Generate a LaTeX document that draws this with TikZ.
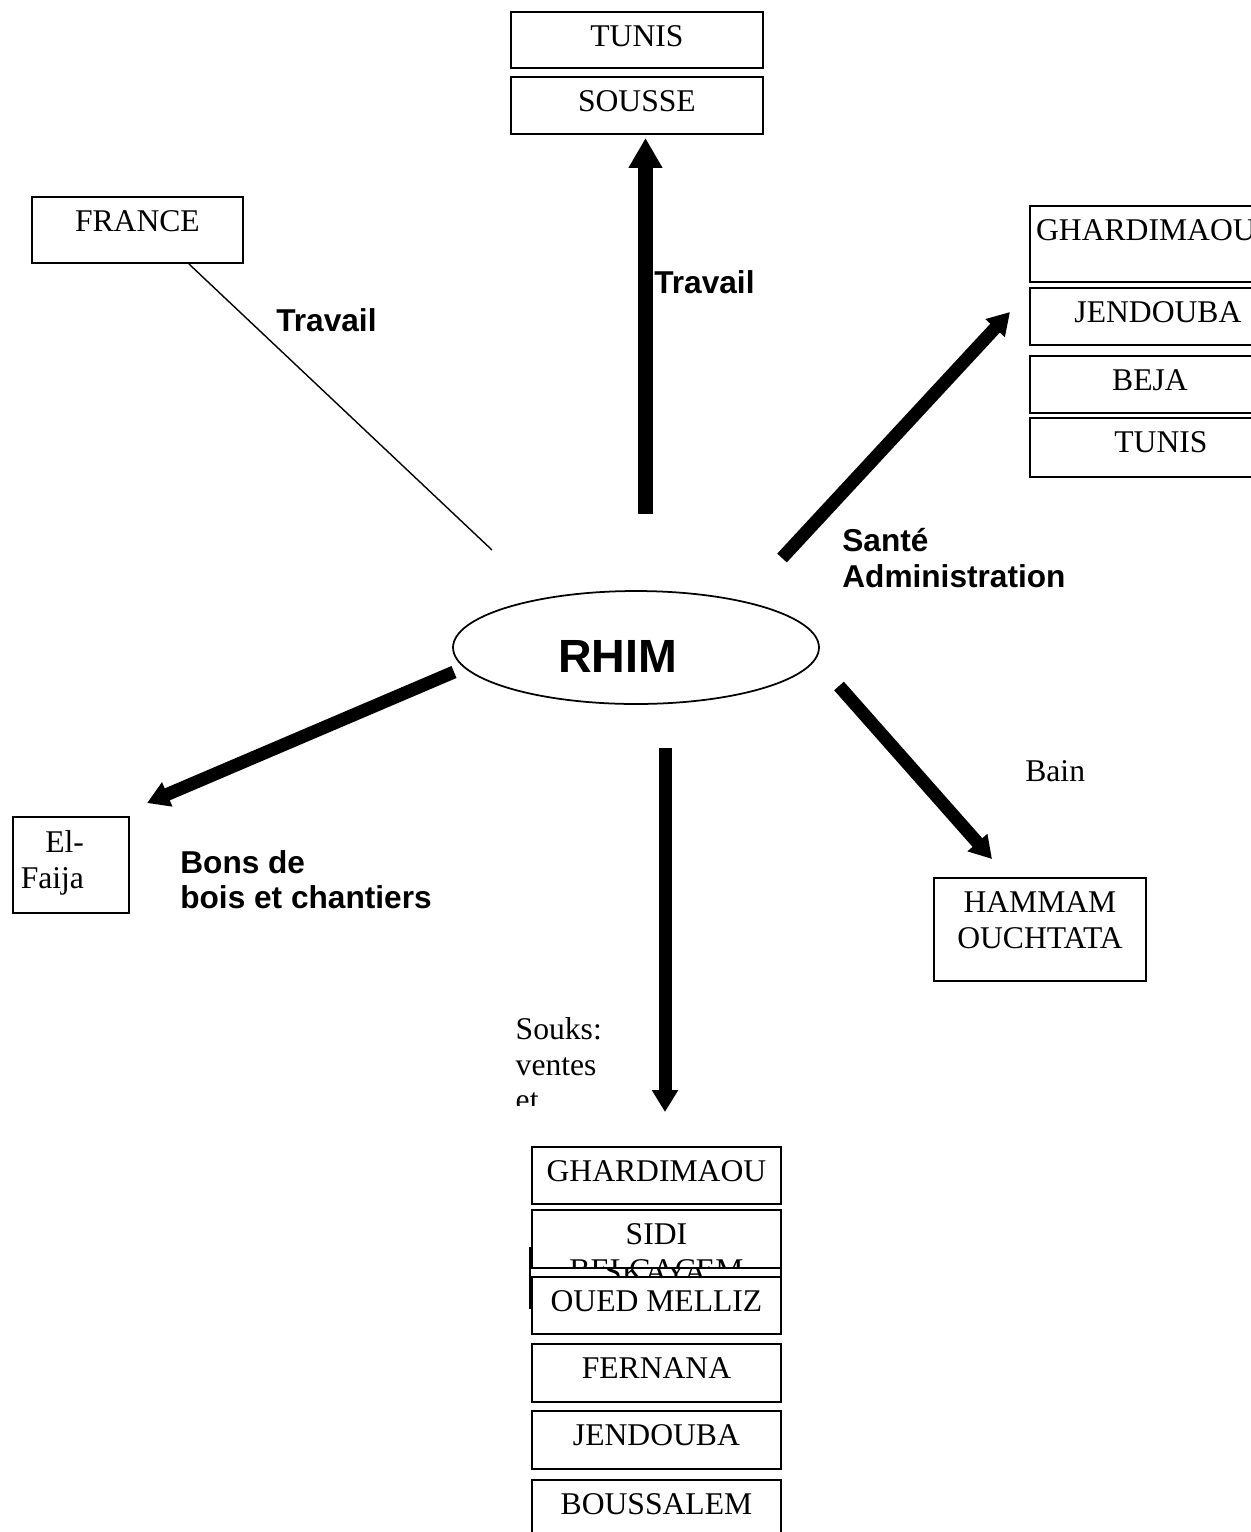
\documentclass[tikz,border=0pt]{standalone}
\usepackage{fontspec}
\setmainfont{Liberation Serif}
\setsansfont{Liberation Sans}
\usetikzlibrary{arrows.meta,shapes.geometric}
\newcommand\townfont{\fontsize{18}{20.2}\selectfont}
\newcommand\tagfont{\sffamily\bfseries\fontsize{18}{20.2}\selectfont}
\begin{document}
\begin{tikzpicture}[x=0.02cm, y=-0.02cm,
		town/.style={draw, fill=white, line width=1.1pt, inner sep=0pt, anchor=north west, path picture={\node[townname] at ([yshift=-0.26cm]path picture bounding box.north) {#1};}},
		townname/.style={draw=none, fill=none, minimum width=0pt, minimum height=0pt, anchor=north, inner sep=0pt, align=center, font=\townfont},
		tag/.style={anchor=north west, inner sep=0pt, align=left, font=\tagfont},
		move/.style={line width=7.4pt, -{Triangle[width=0.5cm, length=0.44cm]}},
		bigmove/.style={line width=8.5pt, -{Triangle[width=0.64cm, length=0.6cm]}}]
	\useasboundingbox (0,0) rectangle (1251,1532);
	\clip (0,0) rectangle (1251,1532);
	\node[town=TUNIS, minimum width=5.04cm, minimum height=1.12cm] (tunis) at (510,11) {};
	\node[town=SOUSSE, minimum width=5.04cm, minimum height=1.14cm] (sousse) at (510,76) {};
	\node[town=FRANCE, minimum width=4.22cm, minimum height=1.32cm] (france) at (31,196) {};
	\node[town=GHARDIMAOU, minimum width=4.64cm, minimum height=1.52cm] (ghardimaou) at (1029,205) {};
	\node[town=JENDOUBA, minimum width=5.12cm, minimum height=1.14cm] (jendouba) at (1029,287) {};
	\node[town=BEJA, minimum width=4.8cm, minimum height=1.14cm] (beja) at (1029,355) {};
	\node[town=TUNIS, minimum width=5.24cm, minimum height=1.18cm] (tunisadm) at (1029,417) {};
	\node[draw, fill=white, line width=1.1pt, inner sep=0pt, anchor=north west, minimum width=2.32cm, minimum height=1.92cm, path picture={\node[townname, anchor=north east, align=right] at ([xshift=-0.88cm, yshift=-0.26cm]path picture bounding box.north east) {El-\\Faija};}] (elfaija) at (12,816) {};
	\node[town={HAMMAM\\OUCHTATA}, minimum width=4.24cm, minimum height=2.06cm] (hammam) at (933,877) {};
	\node[fill=white, inner sep=0pt, anchor=north west, minimum width=1.9cm, minimum height=2.02cm, path picture={\node[townname, anchor=north west, align=left] at ([yshift=-0.26cm]path picture bounding box.north west) {Souks:\\ventes\\et};}] (souks) at (515,1004) {};
	\node[town=GHARDIMAOU, minimum width=4.98cm, minimum height=1.14cm] (ghardsouk) at (531,1146) {};
	\node[town=SKAYA, minimum width=5.02cm, minimum height=1.2cm] (skaya) at (529,1247) {};
	\node[town={SIDI\\BELGACEM}, minimum width=4.98cm, minimum height=1.16cm] (sidi) at (531,1209) {};
	\node[town={OUED MELLIZ}, minimum width=4.98cm, minimum height=1.14cm] (oued) at (531,1276) {};
	\node[town=FERNANA, minimum width=4.98cm, minimum height=1.16cm] (fernana) at (531,1343) {};
	\node[town=JENDOUBA, minimum width=4.98cm, minimum height=1.16cm] (jendsouk) at (531,1410) {};
	\node[town=BOUSSALEM, minimum width=4.98cm, minimum height=1.4cm] (boussalem) at (531,1479) {};
	\node[draw, ellipse, line width=1pt, inner sep=0pt, minimum width=7.32cm, minimum height=2.26cm] (rhim) at (636,647.5) {};
	\node[tag, font=\sffamily\bfseries\fontsize{26.5}{30}\selectfont] (rhimname) at (558,640) {RHIM};
	\node[tag] (travailfr) at (276,308) {Travail};
	\node[tag] (travailtn) at (654,270) {Travail};
	\node[tag] (sante) at (842,528) {Santé\\Administration};
	\node[tag] (bons) at (180,850) {Bons de\\bois et chantiers};
	\node[anchor=north west, inner sep=0pt, font=\townfont] (bain) at (1025,760) {Bain};
	\coordinate (franceend) at (492,550);
	\coordinate (upfrom) at (645.5,514);
	\coordinate (upto) at (645.5,138);
	\coordinate (adminfrom) at (782,558);
	\coordinate (adminto) at (1010,312);
	\coordinate (boisfrom) at (454,672);
	\coordinate (boisto) at (147,803);
	\coordinate (bainfrom) at (839,686);
	\coordinate (bainto) at (992,859);
	\coordinate (soukfrom) at (665,748);
	\coordinate (soukto) at (665,1112);
	\draw[line width=0.8pt] ([xshift=-1.1cm]france.south east) -- (franceend);
	\draw[bigmove] (upfrom) -- (upto);
	\draw[move] (adminfrom) -- (adminto);
	\draw[move] (boisfrom) -- (boisto);
	\draw[move] (bainfrom) -- (bainto);
	\draw[move] (soukfrom) -- (soukto);
\end{tikzpicture}
\end{document}
